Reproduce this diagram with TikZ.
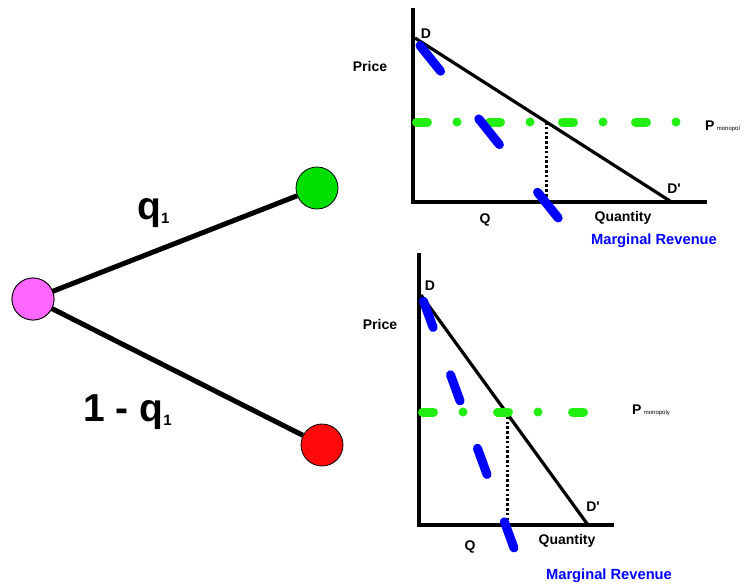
\documentclass[tikz,border=0pt]{standalone}
\usepackage{fontspec}
\setmainfont{Liberation Sans}[Ligatures=TeXOff]
\definecolor{pinkc}{HTML}{FF66FF}
\definecolor{greenc}{HTML}{00E000}
\definecolor{redc}{HTML}{FF0A0A}
\definecolor{mrblue}{HTML}{0000FF}
\definecolor{pgreen}{HTML}{22EE11}
\begin{document}
\begin{tikzpicture}[x=1pt,y=-1pt,
  lbl/.style={font=\fontsize{14}{16}\selectfont\bfseries, inner sep=0pt},
  mrlbl/.style={font=\fontsize{14.7}{16}\selectfont\bfseries, inner sep=0pt, text=mrblue},
  big/.style={font=\fontsize{39}{42}\selectfont\bfseries, inner sep=0pt},
  state/.style={circle, draw=black, line width=0.8pt, minimum size=42pt, inner sep=0pt},
  branch/.style={line width=5pt},
  axis/.style={line width=4pt, line cap=rect},
  demand/.style={line width=3.2pt},
  mrline/.style={line width=9pt, line cap=round, draw=mrblue},
  pline/.style={line width=9pt, line cap=round, draw=pgreen},
  drop/.style={line width=3pt, dash pattern=on 2.6pt off 2.2pt}]
\useasboundingbox (0,0) rectangle (748,587);

% tree
\node[state, fill=pinkc] (root) at (33,299) {};
\node[state, fill=greenc] (up) at (317,188) {};
\node[state, fill=redc] (down) at (322,445) {};
\draw[branch] (root.center) -- (up);
\draw[branch] (root.center) -- (down);
\node[state, fill=pinkc] at (root) {};
\node[big, anchor=base west] (ql) at (137,219) {q\raisebox{-4pt}{\fontsize{15}{15}\selectfont 1}};
\node[big, anchor=base west] (oql) at (83,421) {1 - q\raisebox{-4pt}{\fontsize{15}{15}\selectfont 1}};

% top chart
\coordinate (tA) at (413,10);
\coordinate (tO) at (413,202);
\coordinate (tX) at (705,202);
\draw[axis] (tA) -- (tO) -- (tX);
\coordinate (tD) at (415,38);
\coordinate (tDp) at (670,201);
\draw[demand] (tD) -- (tDp);
\coordinate (tM) at (546,122);
\coordinate (tMb) at (546,202);
\draw[drop] (tM) -- (tMb);
\coordinate (tP0) at (416.5,122);
\coordinate (tP1) at (678,122);
\draw[pline, dash pattern=on 11pt off 29.5pt on 0pt off 32.5pt] (tP0) -- (tP1);
\coordinate (tR0) at (420,45.5);
\coordinate (tR1) at (559,219);
\draw[mrline, dash pattern=on 33pt off 61pt] (tR0) -- (tR1);
\node[lbl] (tprice) at (370,66) {Price};
\node[lbl] (tdl) at (426,34) {D};
\node[lbl] (tdpl) at (674,189) {D'};
\node[lbl] (tq) at (485,220) {Q};
\node[lbl] (tqty) at (623,218) {Quantity};
\node[mrlbl] (tmr) at (654,241) {Marginal Revenue};
\node[lbl, anchor=base west] (tpm) at (705,130) {P\,{\fontsize{6}{7}\selectfont\mdseries monopol}};

% bottom chart
\coordinate (bA) at (419,255);
\coordinate (bO) at (419,525);
\coordinate (bX) at (612,525);
\draw[axis] (bA) -- (bO) -- (bX);
\coordinate (bD) at (421,295);
\coordinate (bDp) at (588,525);
\draw[demand] (bD) -- (bDp);
\coordinate (bM) at (507,412);
\coordinate (bMb) at (507,525);
\draw[drop] (bM) -- (bMb);
\coordinate (bP0) at (422.5,412);
\coordinate (bP1) at (584,412);
\draw[pline, dash pattern=on 11pt off 29.5pt on 0pt off 34.5pt] (bP0) -- (bP1);
\coordinate (bR0) at (423.5,301.2);
\coordinate (bR1) at (514,548);
\draw[mrline, dash pattern=on 28pt off 50.3pt] (bR0) -- (bR1);
\node[lbl] (bprice) at (380,324) {Price};
\node[lbl] (bdl) at (430,286) {D};
\node[lbl] (bdpl) at (593,507) {D'};
\node[lbl] (bq) at (470,547) {Q};
\node[lbl] (bqty) at (567,541) {Quantity};
\node[mrlbl] (bmr) at (609,576) {Marginal Revenue};
\node[lbl, anchor=base west] (bpm) at (632,414) {P\,{\fontsize{6}{7}\selectfont\mdseries monopoly}};
\end{tikzpicture}
\end{document}
